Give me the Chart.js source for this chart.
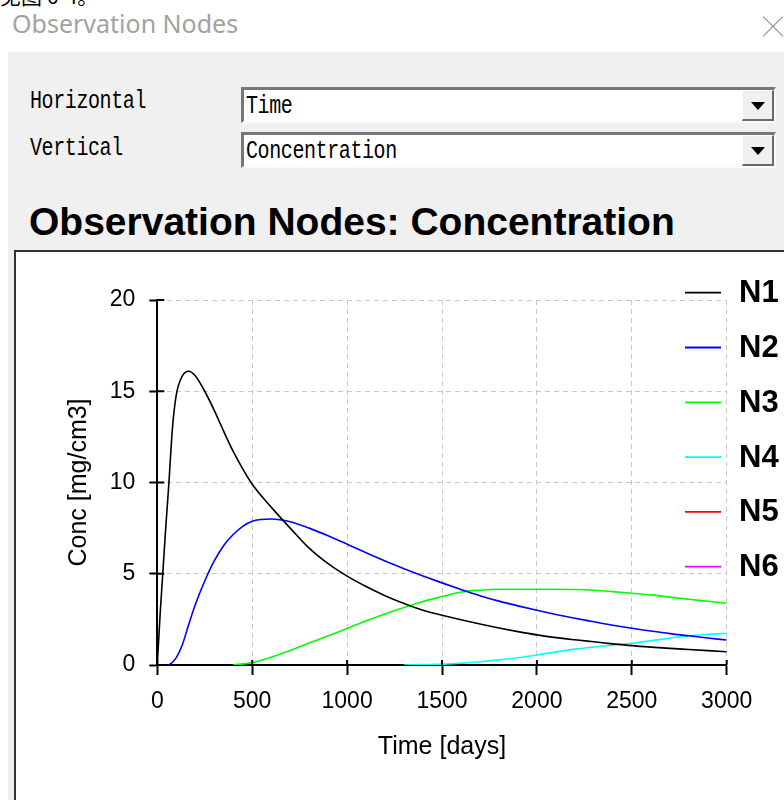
<!DOCTYPE html>
<html>
<head>
<meta charset="utf-8">
<script src="https://cdn.jsdelivr.net/npm/chart.js@4.4.1/dist/chart.umd.min.js"></script>
<style>
  html, body { margin: 0; padding: 0; background: #fff; }
  body { width: 784px; height: 800px; position: relative; overflow: hidden; font-family: Arial, "Liberation Sans", sans-serif; }
  .cjk { position: absolute; left: 0; top: -15px; font: 21px/21px "Noto Sans CJK SC", sans-serif; color: #000; }
  .wtitle { position: absolute; left: 12px; top: 9px; font: 25px/28px "Noto Sans", "Open Sans", sans-serif; color: #a2a2a2; }
  .close { position: absolute; left: 763px; top: 17px; width: 20px; height: 20px; }
  .close:before, .close:after { content: ""; position: absolute; left: -4px; top: 9px; width: 28px; height: 1.4px; background: #8c8c8c; transform: rotate(45deg); }
  .close:after { transform: rotate(-45deg); }
  .panel { position: absolute; left: 8px; top: 52px; right: 0; bottom: 0; background: #f0f0f0; }
  .lbl { position: absolute; font: 20px/20px "Liberation Mono", monospace; color: #000; transform: scaleY(1.25); transform-origin: 0 0; letter-spacing: -0.4px; }
  .combo { position: absolute; left: 241px; width: 530px; height: 31px; background: #fff;
           border-top: 3px solid #777; border-left: 3px solid #777; border-bottom: 2px solid #fbfbfb; border-right: 2px solid #fbfbfb; }
  .combo span { position: absolute; left: 2px; top: 4px; font: 20px/20px "Liberation Mono", monospace; transform: scaleY(1.25); transform-origin: 0 0; letter-spacing: -0.4px; }
  .btn { position: absolute; right: 0; top: 0; background: #f0f0f0; box-sizing: border-box; width: 32px; height: 31px;
         border-right: 2px solid #6a6a6a; border-bottom: 2px solid #6a6a6a; border-top: 1px solid #fff; border-left: 1px solid #fff; }
  .btn:after { content: ""; position: absolute; left: 8px; top: 11px; border-left: 7px solid transparent; border-right: 7px solid transparent; border-top: 8px solid #000; }
  .ptitle { position: absolute; left: 29px; top: 202px; font: bold 39px/39px Arial, "Liberation Sans", sans-serif; color: #000; white-space: nowrap; }
  .frame { position: absolute; left: 14px; top: 250px; width: 790px; height: 600px; border: 2px solid #333; background: #fff; }
  .chart-box { position: absolute; left: 0; top: 0; width: 768px; height: 548px; }
</style>
</head>
<body>
<div class="cjk">见图 6-4。</div>
<div class="wtitle">Observation Nodes</div>
<div class="close"></div>
<div class="panel"></div>
<div class="lbl" style="left:30px; top:89px;">Horizontal</div>
<div class="lbl" style="left:30px; top:136px;">Vertical</div>
<div class="combo" style="top:87px;"><span>Time</span><div class="btn"></div></div>
<div class="combo" style="top:132px;"><span>Concentration</span><div class="btn"></div></div>
<div class="ptitle">Observation Nodes: Concentration</div>
<div class="frame"><div class="chart-box"><canvas id="myChart"></canvas></div></div>
<script>
// time steps [days]
const timeDays = [0, 15, 30, 45, 60, 80, 100, 130, 165, 200, 250, 300, 350, 400, 450, 500,
  600, 700, 800, 900, 1000, 1100, 1200, 1300, 1400, 1500, 1600, 1700, 1800, 1900, 2000,
  2100, 2200, 2300, 2400, 2500, 2600, 2700, 2800, 2900, 3000];

// concentrations [mg/cm3], null = not yet arrived
const n1 = [0, 2.8, 5.2, 7.6, 9.8, 13.0, 14.8, 15.8, 16.1, 15.85, 15.0, 13.95, 12.8, 11.7, 10.75, 9.9,
  8.65, 7.5, 6.4, 5.55, 4.87, 4.3, 3.8, 3.37, 3.0, 2.73, 2.48, 2.25, 2.03, 1.83, 1.65,
  1.5, 1.38, 1.27, 1.16, 1.06, 0.98, 0.91, 0.85, 0.79, 0.73];
const n2 = [null, null, null, null, 0, 0.15, 0.4, 1.05, 2.2, 3.3, 4.6, 5.7, 6.55, 7.15, 7.6, 7.88,
  8.0, 7.85, 7.5, 7.08, 6.62, 6.15, 5.7, 5.28, 4.88, 4.5, 4.14, 3.8, 3.5, 3.24, 3.0,
  2.77, 2.56, 2.37, 2.18, 2.01, 1.86, 1.72, 1.6, 1.48, 1.37];
const n3 = [null, null, null, null, null, null, null, null, null, null, null, null, null, 0, 0.06, 0.13,
  0.42, 0.8, 1.2, 1.6, 2.0, 2.42, 2.8, 3.15, 3.48, 3.75, 4.0, 4.1, 4.15, 4.15, 4.15,
  4.15, 4.14, 4.1, 4.02, 3.93, 3.84, 3.72, 3.6, 3.49, 3.38];
const n4 = [null, null, null, null, null, null, null, null, null, null, null, null, null, null, null, null,
  null, null, null, null, null, null, null, 0, 0.02, 0.05, 0.1, 0.18, 0.28, 0.4, 0.55,
  0.72, 0.87, 0.99, 1.09, 1.19, 1.33, 1.47, 1.6, 1.68, 1.74];
const n5 = [];
const n6 = [];

const seriesNames = ['N1', 'N2', 'N3', 'N4', 'N5', 'N6'];
const seriesValues = [n1, n2, n3, n4, n5, n6];
const seriesColors = ['#000000', '#0000ff', '#00ff00', '#00ffff', '#ff0000', '#ff00ff'];

const xTicks = [0, 500, 1000, 1500, 2000, 2500, 3000];
const yTicks = [0, 5, 10, 15, 20];

const dataSets = seriesValues.map((vals, i) => ({
    label: seriesNames[i],
    data: vals.map((v, k) => ({ x: timeDays[k], y: v })),
    borderColor: seriesColors[i],
    backgroundColor: seriesColors[i],
}));

// legend drawn over the right edge of the plot, like the original
const sideLegend = {
    id: 'sideLegend',
    afterDraw(chart) {
        const ctx = chart.ctx;
        ctx.save();
        chart.data.datasets.forEach((ds, i) => {
            const y = 40.7 + i * 54.8;
            ctx.strokeStyle = ds.borderColor;
            ctx.lineWidth = 1.8;
            ctx.beginPath();
            ctx.moveTo(669, y);
            ctx.lineTo(705, y);
            ctx.stroke();
            ctx.fillStyle = '#000';
            ctx.font = 'bold 31px Arial, "Liberation Sans", sans-serif';
            ctx.textBaseline = 'middle';
            ctx.textAlign = 'left';
            ctx.fillText(ds.label, 723, y + 1);
        });
        ctx.restore();
    }
};

// short tick stubs that poke into the plot area
const innerTicks = {
    id: 'innerTicks',
    afterDatasetsDraw(chart) {
        const {ctx, chartArea, scales} = chart;
        ctx.save();
        ctx.strokeStyle = '#000';
        ctx.lineWidth = 2;
        ctx.beginPath();
        yTicks.forEach(v => {
            const y = scales.y.getPixelForValue(v);
            ctx.moveTo(chartArea.left, y);
            ctx.lineTo(chartArea.left + 7, y);
        });
        xTicks.forEach(v => {
            const x = scales.x.getPixelForValue(v);
            ctx.moveTo(x, chartArea.bottom);
            ctx.lineTo(x, chartArea.bottom - 5);
        });
        ctx.stroke();
        ctx.restore();
    }
};

const gridColor = c => (c.tick && c.tick.value === 0) ? 'rgba(0,0,0,0)' : '#c8c8c8';

const ctx = document.getElementById('myChart').getContext('2d');
const myChart = new Chart(ctx, {
    type: 'line',
    data: { datasets: dataSets },
    options: {
        responsive: true,
        maintainAspectRatio: false,
        animation: false,
        layout: { padding: { left: 0, right: 57.3, top: 48, bottom: 0 } },
        elements: {
            line: { borderWidth: 1.6, cubicInterpolationMode: 'monotone' },
            point: { radius: 0 }
        },
        scales: {
            x: {
                type: 'linear',
                min: 0,
                max: 3000,
                afterFit: s => { s.height = 135; },
                afterBuildTicks: s => { s.ticks = xTicks.map(v => ({ value: v })); },
                ticks: {
                    color: '#000',
                    padding: 13,
                    maxRotation: 0,
                    callback: v => String(v),
                    font: { family: 'Arial, "Liberation Sans", sans-serif', size: 23 }
                },
                grid: { color: gridColor, lineWidth: 1, tickLength: 10, tickColor: '#000', tickWidth: 2, tickBorderDash: [] },
                border: { display: true, color: '#000', width: 2, dash: [5, 4] },
                title: {
                    display: true,
                    text: 'Time [days]',
                    color: '#000',
                    padding: { top: 0, bottom: 38 },
                    font: { family: 'Arial, "Liberation Sans", sans-serif', size: 25 }
                }
            },
            y: {
                min: 0,
                max: 20,
                afterFit: s => { s.width = 141.3; },
                afterBuildTicks: s => { s.ticks = yTicks.map(v => ({ value: v })); },
                ticks: {
                    color: '#000',
                    padding: 14,
                    callback: v => String(v),
                    font: { family: 'Arial, "Liberation Sans", sans-serif', size: 23 }
                },
                grid: { color: gridColor, lineWidth: 1, tickLength: 8, tickColor: '#000', tickWidth: 2, tickBorderDash: [] },
                border: { display: true, color: '#000', width: 2, dash: [5, 4] },
                title: {
                    display: true,
                    text: 'Conc [mg/cm3]',
                    color: '#000',
                    padding: { top: 48, bottom: 0 },
                    font: { family: 'Arial, "Liberation Sans", sans-serif', size: 25 }
                }
            }
        },
        plugins: {
            legend: { display: false },
            tooltip: { enabled: false }
        }
    },
    plugins: [sideLegend, innerTicks]
});
</script>
</body>
</html>
